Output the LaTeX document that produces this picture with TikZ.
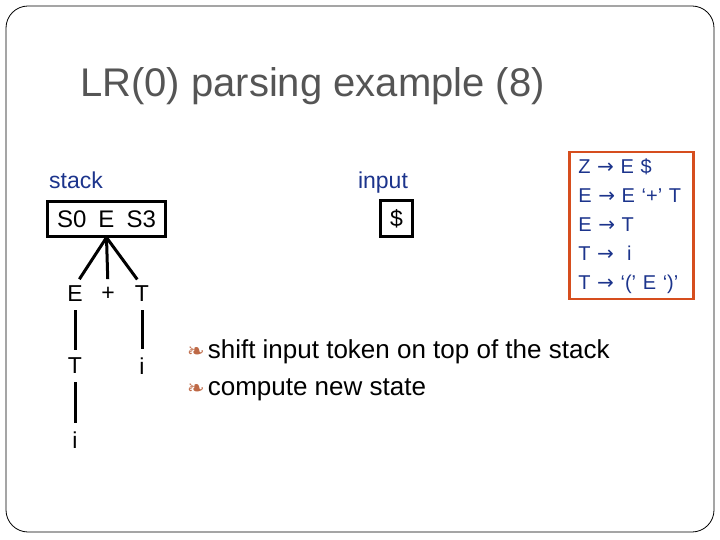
\documentclass[tikz,border=0pt]{standalone}
\usepackage{fontspec}
\setmainfont{Liberation Sans}
\newfontfamily\arrowfont{DejaVu Sans}
\usetikzlibrary{positioning}

\definecolor{slideblue}{RGB}{28,52,140}
\definecolor{grammarred}{RGB}{214,78,30}
\definecolor{bulletbrown}{RGB}{190,105,70}
\definecolor{titlegray}{RGB}{85,85,85}

\newcommand{\prodarrow}{{\arrowfont →}}
\newcommand{\slidebullet}{{\arrowfont\fontsize{21}{21}\selectfont\color{bulletbrown}❧}\hspace{3pt}}

\begin{document}
\begin{tikzpicture}[x = 1pt, y = -1pt,
						cell/.style={draw, line width = 3pt, inner sep = 0pt},
						blue label/.style={text = slideblue, inner sep = 0pt, font = \fontsize{23}{27}\selectfont},
						tree sym/.style={inner sep = 0pt, font = \fontsize{23}{27}\selectfont},
						tree edge/.style={line width = 3pt, shorten <=#1, shorten >=#1},
						tree edge/.default=8pt,
						]

		\useasboundingbox (0, 0) rectangle (720, 540);

		% Slide frame
		\draw[rounded corners = 22pt, line width = 0.8pt] (6, 6) rectangle (714, 532);

		% Title
		\node[anchor = base west, inner sep = 0pt, text = titlegray,
			font = \fontsize{40}{46}\selectfont] (title) at (80, 97) {LR(0) parsing example (8)};

		% Stack and input
		\node[blue label, anchor = base west] (stackLabel) at (49, 189) {stack};
		\node[blue label, anchor = base] (inputLabel) at (383, 189) {input};

		\node[cell, minimum width = 118pt, minimum height = 34pt,
			font = \fontsize{24}{28}\selectfont] (stackBox) at (106.5, 219)
			{S0\hspace{12pt}E\hspace{12pt}S3};
		\node[cell, minimum width = 32pt, minimum height = 36pt,
			font = \fontsize{23}{27}\selectfont] (inputBox) at (396.5, 218.5) {\$};

		% Grammar
		\node[draw = grammarred, line width = 2.5pt, anchor = north west,
			text = slideblue, align = left, text width = 106pt,
			inner xsep = 9pt, inner ysep = 6pt,
			font = \fontsize{20}{29}\selectfont] (grammar) at (568, 151)
			{Z \prodarrow\ E \$\\
			 E \prodarrow\ E ‘+’ T\\
			 E \prodarrow\ T\\
			 T \prodarrow\ \ i\\
			 T \prodarrow\ ‘(’ E ‘)’};

		% Parse tree under the stack
		\node[tree sym] (treeE) at (75, 294) {E};
		\node[tree sym] (treePlus) at (108, 294) {+};
		\node[tree sym] (treeT) at (142, 294) {T};
		\node[tree sym] (treeTT) at (75, 366) {T};
		\node[tree sym] (treeI) at (75, 440) {i};
		\node[tree sym] (treeTI) at (142, 366) {i};

		\draw[tree edge = 0pt, shorten >= 8pt] (stackBox.south) -- (treeE.north);
		\draw[tree edge = 0pt, shorten >= 8pt] (stackBox.south) -- (treePlus.north);
		\draw[tree edge = 0pt, shorten >= 8pt] (stackBox.south) -- (treeT.north);
		\draw[tree edge] (treeE) -- (treeTT);
		\draw[tree edge] (treeTT) -- (treeI);
		\draw[tree edge] (treeT) -- (treeTI);

		% Explanation
		\node[anchor = base west, inner sep = 0pt, font = \fontsize{26}{31}\selectfont]
			(shiftText) at (187, 358) {\slidebullet shift input token on top of the stack};
		\node[anchor = base west, inner sep = 0pt, font = \fontsize{26}{31}\selectfont]
			(stateText) at (187, 395) {\slidebullet compute new state};

	\end{tikzpicture}
\end{document}
